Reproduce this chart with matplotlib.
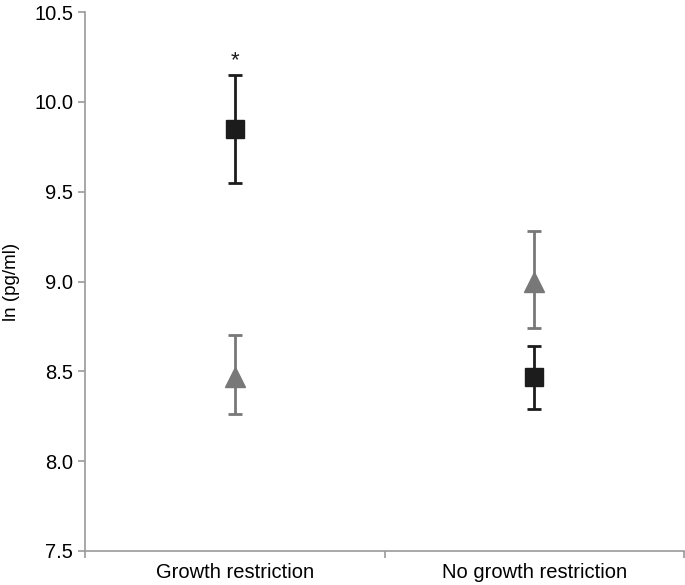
import matplotlib.pyplot as plt

plt.rcParams['font.family'] = ['Liberation Sans', 'DejaVu Sans']

# data
categories = ["Growth restriction", "No growth restriction"]
square_mean = [9.85, 8.47]
square_low = [9.55, 8.29]
square_high = [10.15, 8.64]
tri_mean = [8.47, 9.00]
tri_low = [8.26, 8.74]
tri_high = [8.70, 9.28]
yticks = [7.5, 8.0, 8.5, 9.0, 9.5, 10.0, 10.5]

xpos = [0.5, 1.5]

fig = plt.figure(figsize=(6.85, 5.85), dpi=100)
ax = fig.add_axes([85 / 685, 1 - 551 / 585, 599 / 685, 539 / 585])

sq_err = [[m - l for m, l in zip(square_mean, square_low)],
          [h - m for m, h in zip(square_mean, square_high)]]
tr_err = [[m - l for m, l in zip(tri_mean, tri_low)],
          [h - m for m, h in zip(tri_mean, tri_high)]]

ax.errorbar(xpos, tri_mean, yerr=tr_err, fmt='^', color='#787878',
            ecolor='#787878', markersize=14, elinewidth=2, capsize=5,
            capthick=2, zorder=3)
ax.errorbar(xpos, square_mean, yerr=sq_err, fmt='s', color='#1c1c1c',
            ecolor='#1c1c1c', markersize=13, elinewidth=2, capsize=5,
            capthick=2, zorder=4)

ax.text(xpos[0], square_high[0] + 0.02, '*', ha='center', va='bottom',
        fontsize=16, color='#1c1c1c')

ax.set_xlim(0, 2)
ax.set_ylim(7.5, 10.5)
ax.set_yticks(yticks)
ax.set_yticklabels([f"{t:.1f}" for t in yticks])
ax.set_xticks([0, 1, 2])
ax.set_xticklabels([])
for x, lab in zip(xpos, categories):
    ax.text(x, -0.039, lab, transform=ax.get_xaxis_transform(),
            ha='center', va='center', fontsize=14.5)

ax.set_ylabel("ln (pg/ml)", fontsize=13.5, labelpad=10)
for s in ['top', 'right']:
    ax.spines[s].set_visible(False)
for s in ['left', 'bottom']:
    ax.spines[s].set_color('#9a9a9a')
    ax.spines[s].set_linewidth(1.2)
ax.tick_params(axis='both', colors='#9a9a9a', length=5, width=1.2,
               labelcolor='black', labelsize=14.5)

fig.savefig("out.png", dpi=100)
